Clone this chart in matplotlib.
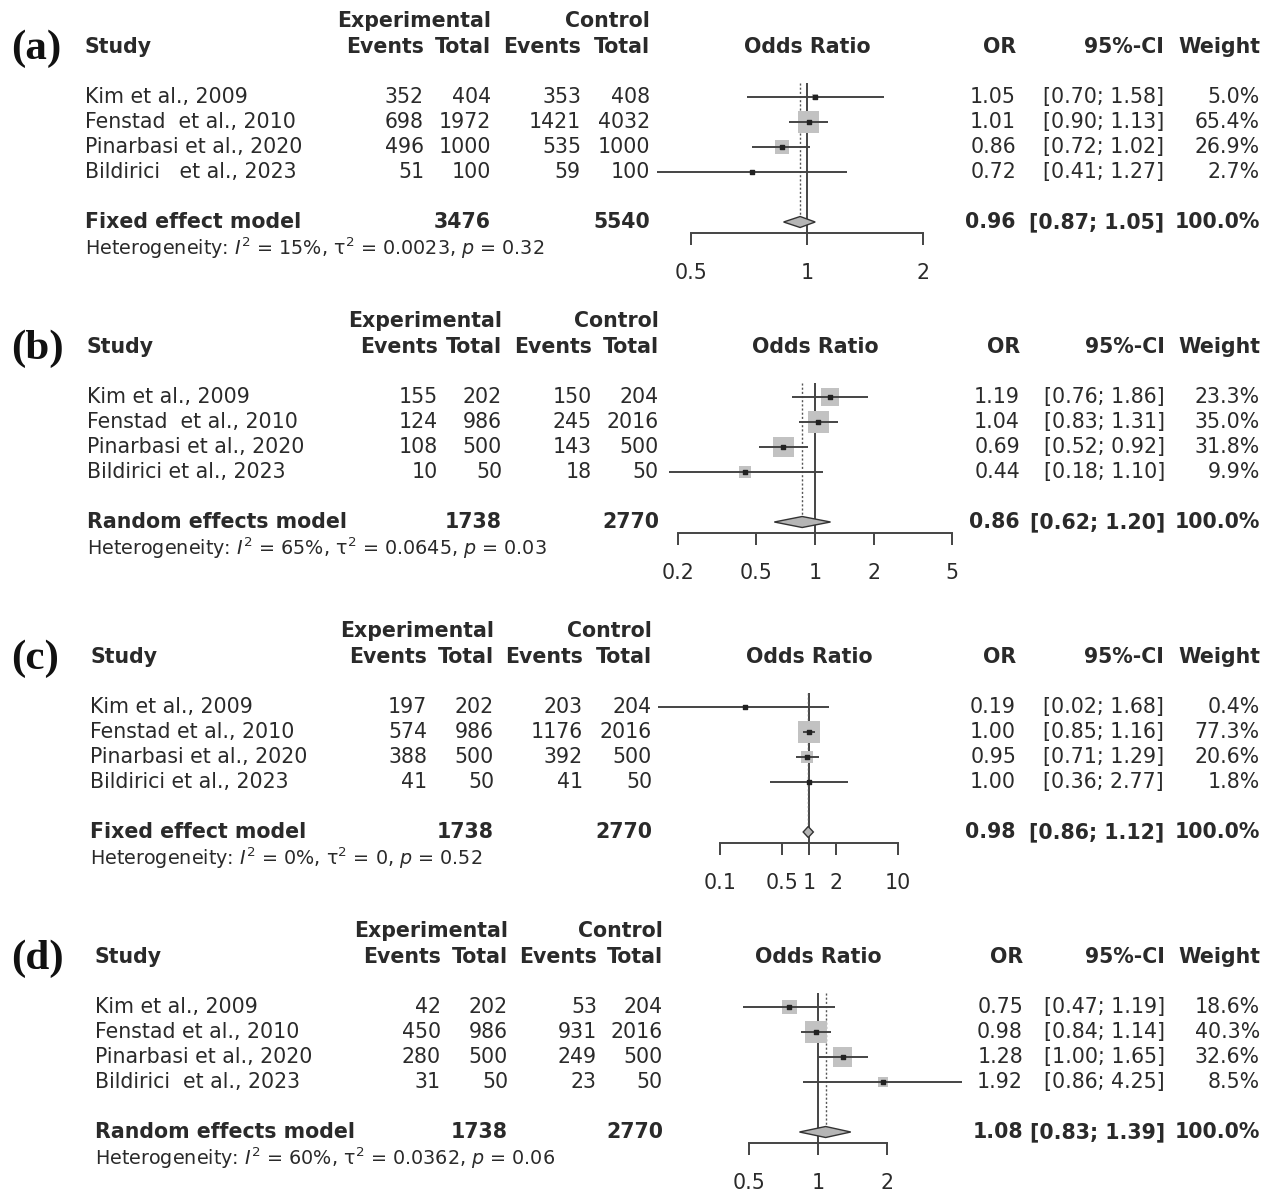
import numpy as np
import matplotlib
matplotlib.use("Agg")
import matplotlib.pyplot as plt

plt.rcParams["font.family"] = "DejaVu Sans"
plt.rcParams["mathtext.fontset"] = "dejavusans"

# ---- data, one list entry per panel (a)-(d) ----
panel_labels = ["(a)", "(b)", "(c)", "(d)"]
studies = [
    ["Kim et al., 2009", "Fenstad  et al., 2010", "Pinarbasi et al., 2020", "Bildirici   et al., 2023"],
    ["Kim et al., 2009", "Fenstad  et al., 2010", "Pinarbasi et al., 2020", "Bildirici et al., 2023"],
    ["Kim et al., 2009", "Fenstad et al., 2010", "Pinarbasi et al., 2020", "Bildirici et al., 2023"],
    ["Kim et al., 2009", "Fenstad et al., 2010", "Pinarbasi et al., 2020", "Bildirici  et al., 2023"],
]
exp_events = [[352, 698, 496, 51], [155, 124, 108, 10], [197, 574, 388, 41], [42, 450, 280, 31]]
exp_total = [[404, 1972, 1000, 100], [202, 986, 500, 50], [202, 986, 500, 50], [202, 986, 500, 50]]
ctrl_events = [[353, 1421, 535, 59], [150, 245, 143, 18], [203, 1176, 392, 41], [53, 931, 249, 23]]
ctrl_total = [[408, 4032, 1000, 100], [204, 2016, 500, 50], [204, 2016, 500, 50], [204, 2016, 500, 50]]
odds = [[1.05, 1.01, 0.86, 0.72], [1.19, 1.04, 0.69, 0.44], [0.19, 1.00, 0.95, 1.00], [0.75, 0.98, 1.28, 1.92]]
ci_low = [[0.70, 0.90, 0.72, 0.41], [0.76, 0.83, 0.52, 0.18], [0.02, 0.85, 0.71, 0.36], [0.47, 0.84, 1.00, 0.86]]
ci_high = [[1.58, 1.13, 1.02, 1.27], [1.86, 1.31, 0.92, 1.10], [1.68, 1.16, 1.29, 2.77], [1.19, 1.14, 1.65, 4.25]]
weights = [[5.0, 65.4, 26.9, 2.7], [23.3, 35.0, 31.8, 9.9], [0.4, 77.3, 20.6, 1.8], [18.6, 40.3, 32.6, 8.5]]
model_names = ["Fixed effect model", "Random effects model", "Fixed effect model", "Random effects model"]
model_exp_total = [3476, 1738, 1738, 1738]
model_ctrl_total = [5540, 2770, 2770, 2770]
model_or = [0.96, 0.86, 0.98, 1.08]
model_low = [0.87, 0.62, 0.86, 0.83]
model_high = [1.05, 1.20, 1.12, 1.39]
het_i2 = ["15%", "65%", "0%", "60%"]
het_tau2 = ["0.0023", "0.0645", "0", "0.0362"]
het_p = ["0.32", "0.03", "0.52", "0.06"]
x_ticks = [[0.5, 1, 2], [0.2, 0.5, 1, 2, 5], [0.1, 0.5, 1, 2, 10], [0.5, 1, 2]]

# ---- layout (pixels) ----
W, H = 1280, 1197
row_y0 = [97, 397, 707, 1007]                 # y of first study row
study_x = [85, 87, 90, 95]
num_cols = [[424, 491, 581, 650], [438, 502, 592, 659], [427, 494, 583, 652], [441, 508, 597, 663]]
or_right = [1016, 1020, 1016, 1023]
ci_right = [1164, 1165, 1164, 1165]
w_right = 1260
x_one = [807, 815, 809, 818]                  # pixel of OR = 1
px_per_dec = [387, 196, 89, 229]
ax_left, ax_right = 640, 990
ROW = 25

fs = 14.8
fs_het = 13.8
txt_col = "#2a2a2a"

fig = plt.figure(figsize=(12.8, 11.97), dpi=100)


def put(x, y, s, ha="left", **kw):
    kw.setdefault("fontsize", fs)
    kw.setdefault("color", txt_col)
    fig.text(x / W, 1 - y / H, s, ha=ha, va="center", **kw)


for p in range(4):
    y0 = row_y0[p]
    c = num_cols[p]

    # labels and headers
    put(11, y0 - 48, panel_labels[p], family="Liberation Serif", weight="bold", fontsize=31, color="#111111")
    put(c[1], y0 - 76, "Experimental", ha="right", weight="bold")
    put(c[3], y0 - 76, "Control", ha="right", weight="bold")
    put(study_x[p], y0 - 50, "Study", weight="bold")
    for xx, lab in zip(c, ["Events", "Total", "Events", "Total"]):
        put(xx, y0 - 50, lab, ha="right", weight="bold")
    put(x_one[p], y0 - 50, "Odds Ratio", ha="center", weight="bold")
    put(or_right[p], y0 - 50, "OR", ha="right", weight="bold")
    put(ci_right[p], y0 - 50, "95%-CI", ha="right", weight="bold")
    put(w_right, y0 - 50, "Weight", ha="right", weight="bold")

    # study rows
    for i in range(4):
        y = y0 + ROW * i
        put(study_x[p], y, studies[p][i])
        vals = [exp_events[p][i], exp_total[p][i], ctrl_events[p][i], ctrl_total[p][i]]
        for xx, v in zip(c, vals):
            put(xx, y, str(v), ha="right")
        put(or_right[p], y, f"{odds[p][i]:.2f}", ha="right")
        put(ci_right[p], y, f"[{ci_low[p][i]:.2f}; {ci_high[p][i]:.2f}]", ha="right")
        put(w_right, y, f"{weights[p][i]:.1f}%", ha="right")

    # pooled row
    ym = y0 + ROW * 5
    put(study_x[p], ym, model_names[p], weight="bold")
    put(c[1], ym, str(model_exp_total[p]), ha="right", weight="bold")
    put(c[3], ym, str(model_ctrl_total[p]), ha="right", weight="bold")
    put(or_right[p], ym, f"{model_or[p]:.2f}", ha="right", weight="bold")
    put(ci_right[p], ym, f"[{model_low[p]:.2f}; {model_high[p]:.2f}]", ha="right", weight="bold")
    put(w_right, ym, "100.0%", ha="right", weight="bold")
    put(study_x[p], ym + 26,
        rf"Heterogeneity: $I^2$ = {het_i2[p]}, τ$^2$ = {het_tau2[p]}, $p$ = {het_p[p]}",
        fontsize=fs_het)

    # forest axes: rows 0..8, row r at pixel y0 - 25 + 25 r
    top = y0 - ROW
    ax = fig.add_axes([ax_left / W, 1 - (top + 8 * ROW) / H, (ax_right - ax_left) / W, 8 * ROW / H])
    ax.set_xscale("log")
    ax.set_xlim(10 ** ((ax_left - x_one[p]) / px_per_dec[p]), 10 ** ((ax_right - x_one[p]) / px_per_dec[p]))
    ax.set_ylim(8, 0)
    ax.patch.set_alpha(0)
    for s in ["top", "right", "left"]:
        ax.spines[s].set_visible(False)
    ax.spines["bottom"].set_position(("data", 6.44))
    ax.spines["bottom"].set_bounds(x_ticks[p][0], x_ticks[p][-1])
    ax.spines["bottom"].set_color("#444444")
    ax.spines["bottom"].set_linewidth(1.4)
    ax.set_yticks([])
    ax.set_xticks(x_ticks[p], labels=[f"{t:g}" for t in x_ticks[p]])
    ax.minorticks_off()
    ax.tick_params(axis="x", length=8.6, width=1.4, color="#444444", labelsize=fs, labelcolor=txt_col, pad=13)

    rows = np.arange(1, 5)
    wmax = max(weights[p])
    sizes = 15.5 ** 2 * np.array(weights[p]) / wmax
    ax.vlines(1, 0.44, 6.44, color="#444444", lw=1.4, zorder=1)
    ax.vlines(model_or[p], 0.44, 5.8, color="#555555", lw=1.0, linestyles=(0, (1.5, 1.5)), zorder=1)
    ax.scatter(odds[p], rows, s=sizes, marker="s", color="#c2c2c2", edgecolors="none", zorder=2)
    ax.hlines(rows, ci_low[p], ci_high[p], color="#444444", lw=1.4, zorder=3)
    ax.scatter(odds[p], rows, s=6, marker="s", color="#222222", zorder=4)
    ax.fill([model_low[p], model_or[p], model_high[p], model_or[p]], [6, 6.22, 6, 5.78],
            facecolor="#b5b5b5", edgecolor="#333333", lw=1.0, zorder=4)

fig.savefig("out.png", dpi=100)
